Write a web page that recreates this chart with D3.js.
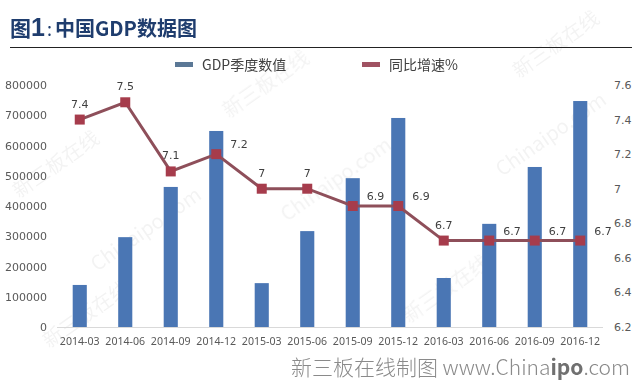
<!DOCTYPE html>
<html><head><meta charset="utf-8">
<script src="https://cdn.jsdelivr.net/npm/d3@7/dist/d3.min.js"></script>
<style>body{margin:0;background:#fff;}svg{display:block;font-family:"Noto Sans CJK SC","Noto Sans",sans-serif;}</style>
</head><body><svg id="c" width="640" height="385"></svg>
<script>
const categories = ["2014-03","2014-06","2014-09","2014-12","2015-03","2015-06","2015-09","2015-12","2016-03","2016-06","2016-09","2016-12"];
const gdpValues = [139000, 297000, 463000, 648000, 145000, 317000, 492000, 691000, 162000, 341000, 529000, 747000];
const growthRates = [7.4, 7.5, 7.1, 7.2, 7.0, 7.0, 6.9, 6.9, 6.7, 6.7, 6.7, 6.7];
const growthLabels = ["7.4","7.5","7.1","7.2","7","7","6.9","6.9","6.7","6.7","6.7","6.7"];
const labelPlacement = ["top","top","top","right","top","top","right","right","top","right","right","right"];
const leftTicks = [0,100000,200000,300000,400000,500000,600000,700000,800000];
const rightTicks = [6.2,6.4,6.6,6.8,7.0,7.2,7.4,7.6];
const legendNames = ["GDP季度数值","同比增速%"];

const svg = d3.select("#c");
const barColor = "#4a76b4", lineColor = "#8e4f5a", markColor = "#a63c4c";

// watermarks
const wm = svg.append("g").attr("fill","#000").attr("opacity",0.05).attr("font-size",20);
[["新三板在线",90,320],["Chinaipo.com",150,235],["新三板在线",270,90],["Chinaipo.com",340,185],["新三板在线",450,295],["Chinaipo.com",555,140],["新三板在线",560,50],["新三板在线",60,170]]
  .forEach(([t,x,y])=>wm.append("text").attr("transform",`translate(${x},${y}) rotate(-35)`).attr("text-anchor","middle").text(t));

// title
const title = svg.append("text").attr("x",10).attr("y",36).attr("fill","#1f3d6e").attr("font-size",21).attr("font-weight","bold");
title.append("tspan").text("图");
title.append("tspan").attr("font-size",25).attr("font-family","Liberation Sans, Arial").text("1");
title.append("tspan").attr("font-weight","normal").attr("font-size",18).attr("dx",2).text(":");
title.append("tspan").attr("font-weight","bold").attr("font-size",20).attr("dx",3).text("中国GDP数据图");
svg.append("line").attr("x1",10).attr("x2",632).attr("y1",47.5).attr("y2",47.5).attr("stroke","#222").attr("stroke-width",1.2);

// scales
const x = d3.scaleBand().domain(categories).range([57,603]).paddingInner(0.69).paddingOuter(0.345);
const yL = d3.scaleLinear().domain([0,800000]).range([327,85]);
const yR = d3.scaleLinear().domain([6.2,7.6]).range([327,85]);

// axes
const axL = svg.append("g").attr("transform","translate(47,0)").call(d3.axisLeft(yL).tickValues(leftTicks).tickSize(0).tickPadding(0).tickFormat(d3.format("d")));
const axR = svg.append("g").attr("transform","translate(614,0)").call(d3.axisRight(yR).tickValues(rightTicks).tickSize(0).tickPadding(0).tickFormat(d=>d3.format("")(+d.toFixed(1))));
const axB = svg.append("g").attr("transform","translate(0,327)").call(d3.axisBottom(x).tickSize(0).tickPadding(10));
[axL,axR,axB].forEach(a=>{a.select(".domain").remove();a.selectAll("text").attr("fill","#595959").attr("font-size",11).attr("font-family","DejaVu Sans, sans-serif");});
axB.selectAll("text").attr("font-size",10.6).attr("font-family","Noto Sans, sans-serif");
svg.append("line").attr("x1",57).attr("x2",603).attr("y1",327.5).attr("y2",327.5).attr("stroke","#d9d9d9");

// bars
svg.append("g").selectAll("rect").data(gdpValues).join("rect")
  .attr("x",(d,i)=>x(categories[i])).attr("width",x.bandwidth())
  .attr("y",d=>yL(d)).attr("height",d=>yL(0)-yL(d)).attr("fill",barColor);

// line
const cx = i => x(categories[i]) + x.bandwidth()/2;
svg.append("path").datum(growthRates)
  .attr("d",d3.line().x((d,i)=>cx(i)).y(d=>yR(d)))
  .attr("fill","none").attr("stroke",lineColor).attr("stroke-width",3);
svg.append("g").selectAll("rect").data(growthRates).join("rect")
  .attr("x",(d,i)=>cx(i)-5).attr("y",d=>yR(d)-5).attr("width",10).attr("height",10).attr("fill",markColor);
svg.append("g").selectAll("text").data(growthRates).join("text")
  .attr("x",(d,i)=>labelPlacement[i]==="top"?cx(i):cx(i)+14)
  .attr("y",(d,i)=>labelPlacement[i]==="top"?yR(d)-12:yR(d)-6)
  .attr("text-anchor",(d,i)=>labelPlacement[i]==="top"?"middle":"start")
  .attr("font-size",11).attr("fill","#404040").attr("font-family","DejaVu Sans, sans-serif")
  .text((d,i)=>growthLabels[i]);

// legend
const lg = svg.append("g");
lg.append("rect").attr("x",175).attr("y",62).attr("width",18).attr("height",5).attr("fill","#5b7896");
lg.append("text").attr("x",202).attr("y",70).attr("font-size",14).attr("fill","#404040").text(legendNames[0]);
lg.append("rect").attr("x",362).attr("y",62).attr("width",18).attr("height",5).attr("fill","#a05262");
lg.append("text").attr("x",389).attr("y",70).attr("font-size",14).attr("fill","#404040").text(legendNames[1]);

// footer
const ft = svg.append("text").attr("x",630).attr("y",375).attr("text-anchor","end").attr("font-size",21).attr("font-weight",300).attr("fill","#8a8a8a");
ft.append("tspan").text("新三板在线制图 www.China");
ft.append("tspan").attr("font-weight","bold").attr("fill","#707070").text("ipo");
ft.append("tspan").text(".com");
</script></body></html>
